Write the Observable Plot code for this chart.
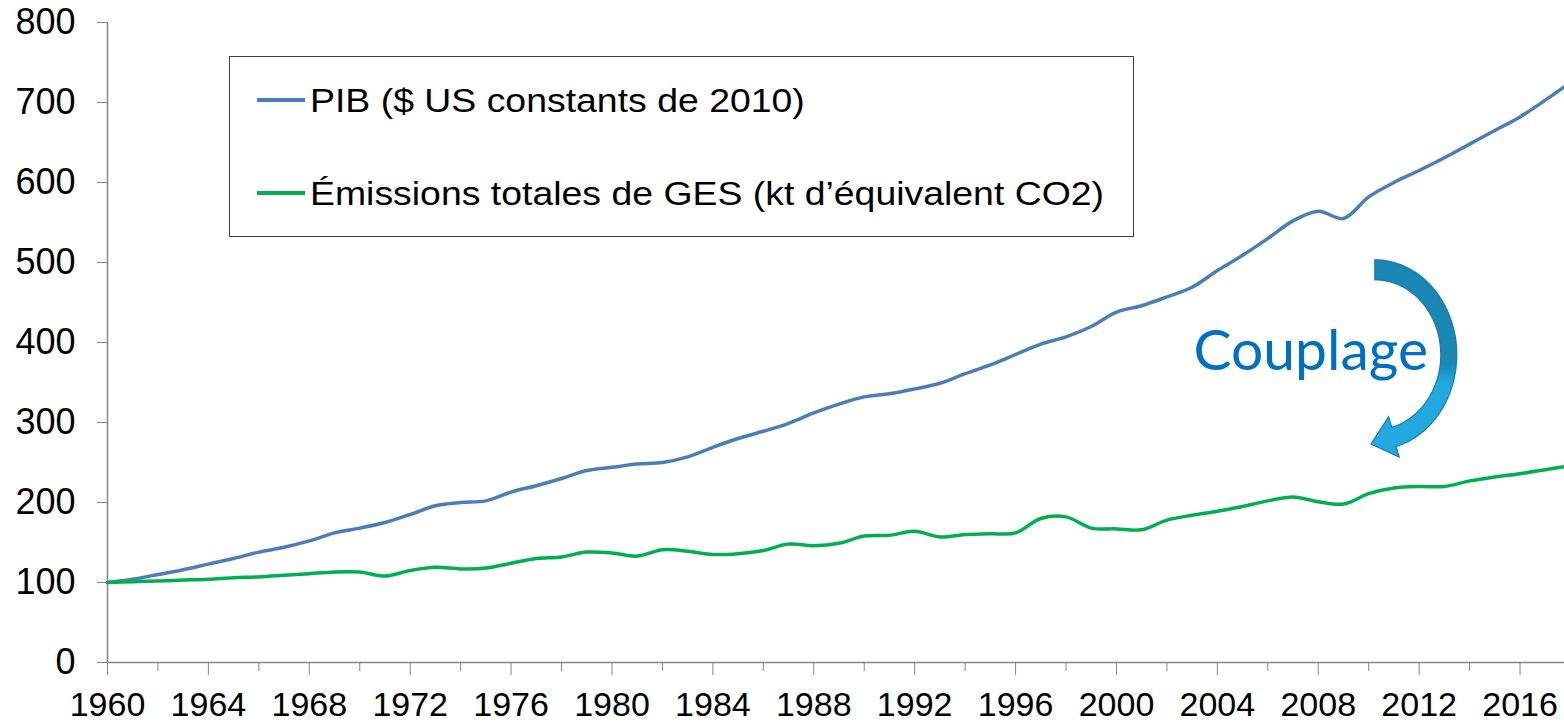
<!DOCTYPE html>
<html>
<head>
<meta charset="utf-8">
<script src="https://cdn.jsdelivr.net/npm/d3@7"></script>
<script src="https://cdn.jsdelivr.net/npm/@observablehq/plot@0.6"></script>
<style>
  html, body { margin: 0; padding: 0; background: #fff; overflow: hidden; }
  #wrap { position: relative; width: 1564px; height: 724px; }
  #legend { position: absolute; left: 229px; top: 56px; width: 903px; height: 179px;
            border: 1.5px solid #404040; background: #fff; box-sizing: content-box; }
  .sw { position: absolute; width: 48px; height: 4px; }
  .lab { position: absolute; font-family: "Liberation Sans", Arial, sans-serif; font-size: 34px;
         color: #000; transform: scaleX(1.1); transform-origin: 0 50%; line-height: 50px; height: 50px; white-space: nowrap; }
</style>
</head>
<body>
<div id="wrap"></div>
<script>
const years = d3.range(1960, 2019);
const pib = [100,104,110,116,123,130,138,144,152,162,
             168,175,185,196,200,202,213,221,230,240,
             244,248,250,257,269,280,289,299,312,323,
             332,336,342,349,361,372,385,398,407,420,
             438,446,457,469,490,509,530,552,564,555,
             582,600,615,631,648,665,682,703,725];
const ges = [100,101,102,103,104,106,107,109,111,113,
             113,108,115,119,117,118,124,130,132,138,
             137,133,141,139,135,136,140,148,146,149,
             158,159,164,157,160,161,162,180,182,168,
             167,166,178,184,189,195,202,207,201,198,
             211,218,220,220,227,232,236,241,246];
const seriesNames = ["PIB ($ US constants de 2010)", "Émissions totales de GES (kt d’équivalent CO2)"];
const seriesColors = ["#4A7EBB", "#00B050"];
const yTicks = [0,100,200,300,400,500,600,700,800];
const xMajor = d3.range(1960, 2017, 4);
const xMinor = d3.range(1962, 2019, 4);
const annot = {x: 2007.7, y: 389, text: "Couplage"};

const pibData = years.map((yr, i) => ({year: yr, value: pib[i]}));
const gesData = years.map((yr, i) => ({year: yr, value: ges[i]}));

const xDomain = [1960, 2018], xRange = [107, 1570];
const yDomain = [0, 800], yRange = [662, 22];

const chart = Plot.plot({
  width: 1564, height: 724,
  marginLeft: 107, marginRight: 0, marginTop: 22, marginBottom: 62,
  x: {domain: xDomain, range: xRange},
  y: {domain: yDomain, range: yRange},
  style: {fontFamily: "'Liberation Sans', Arial, sans-serif", background: "white", color: "#000"},
  marks: [
    Plot.ruleX([1960], {y1: 0, y2: 800, stroke: "#868686", strokeWidth: 1.5}),
    Plot.ruleY([0], {stroke: "#868686", strokeWidth: 1.5}),
    Plot.axisY({ticks: yTicks, tickSize: 10, tickPadding: 22, fontSize: 36, stroke: "#868686", fill: "#000", tickFormat: d => String(d), label: null}),
    Plot.axisX({ticks: xMajor, tickSize: 13, tickPadding: 16, fontSize: 34, stroke: "#868686", fill: "#000", tickFormat: d => String(d), label: null}),
    Plot.axisX({ticks: xMinor, tickSize: 9, stroke: "#868686", tickFormat: () => "", label: null}),
    Plot.line(pibData, {x: "year", y: "value", stroke: seriesColors[0], strokeWidth: 3.5, curve: "catmull-rom"}),
    Plot.line(gesData, {x: "year", y: "value", stroke: seriesColors[1], strokeWidth: 3.5, curve: "catmull-rom"}),
    Plot.text([annot], {x: "x", y: "y", text: "text", fontSize: 57, fill: "#0070C0", fontFamily: "Lato, 'Noto Sans', sans-serif", textAnchor: "middle", letterSpacing: "1px"})
  ]
});

// curved arrow annotation, placed with the same scales
const sx = d3.scaleLinear(xDomain, xRange);
const sy = d3.scaleLinear(yDomain, yRange);
const cx = sx(2010.26), cy = sy(384);
const ro = [82, 95], ri = [66, 75];
const t0 = -Math.PI / 2, t1 = 75 * Math.PI / 180;
const pt = (r, t) => [cx + r[0] * Math.cos(t), cy + r[1] * Math.sin(t)];
const steps = 60;
const outer = d3.range(steps + 1).map(k => pt(ro, t0 + (t1 - t0) * k / steps));
const inner = d3.range(steps + 1).map(k => pt(ri, t0 + (t1 - t0) * k / steps)).reverse();
const rm = [(ro[0] + ri[0]) / 2, (ro[1] + ri[1]) / 2];
let dir = [-rm[0] * Math.sin(t1), rm[1] * Math.cos(t1)];
const dl = Math.hypot(dir[0], dir[1]); dir = [dir[0] / dl, dir[1] / dl];
const nrm = [dir[1], -dir[0]]; // outward normal (away from centre)
const oe = outer[outer.length - 1], ie = inner[0];
const mid = [(oe[0] + ie[0]) / 2, (oe[1] + ie[1]) / 2];
const tip = [mid[0] + dir[0] * 24, mid[1] + dir[1] * 24];
const ob = [oe[0] + nrm[0] * 11, oe[1] + nrm[1] * 11];
const ib = [ie[0] - nrm[0] * 11, ie[1] - nrm[1] * 11];
const pts = [...outer, ob, tip, ib, ...inner];
const svg = d3.select(chart.tagName.toLowerCase() === "svg" ? chart : chart.querySelector("svg"));
const defs = svg.append("defs");
const grad = defs.append("linearGradient").attr("id", "arrowGrad").attr("gradientUnits", "userSpaceOnUse")
  .attr("x1", 0).attr("x2", 0).attr("y1", cy - 95).attr("y2", cy + 105);
grad.append("stop").attr("offset", "0.52").attr("stop-color", "#1A87B5");
grad.append("stop").attr("offset", "0.62").attr("stop-color", "#22A9E0");
svg.append("path")
  .attr("d", "M" + pts.map(p => p[0].toFixed(1) + "," + p[1].toFixed(1)).join("L") + "Z")
  .attr("fill", "url(#arrowGrad)")
  .attr("stroke", "#1C7CA5").attr("stroke-width", 1.2).attr("stroke-linejoin", "miter");

const wrap = document.getElementById("wrap");
wrap.appendChild(chart);

// legend box overlapping the chart
const legend = document.createElement("div");
legend.id = "legend";
wrap.appendChild(legend);
const rowCenters = [100, 193];
seriesNames.forEach((name, i) => {
  const sw = document.createElement("div");
  sw.className = "sw";
  sw.style.left = (257 - 230.5) + "px";
  sw.style.top = (rowCenters[i] - 57.5 - 2) + "px";
  sw.style.background = seriesColors[i];
  legend.appendChild(sw);
  const lab = document.createElement("div");
  lab.className = "lab";
  lab.textContent = name;
  lab.style.left = (310 - 230.5) + "px";
  lab.style.top = (rowCenters[i] - 57.5 - 25) + "px";
  legend.appendChild(lab);
});
</script>
</body>
</html>
